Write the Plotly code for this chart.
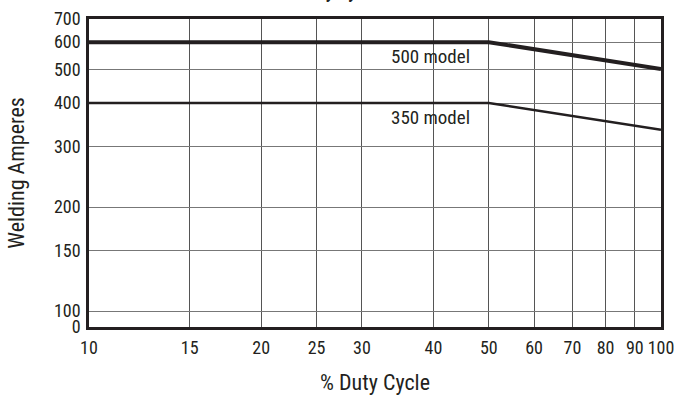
import plotly.graph_objects as go
import math

duty_500 = [10, 50, 100]
amps_500 = [600, 600, 502]
duty_350 = [10, 50, 100]
amps_350 = [400, 400, 335]

x_ticks = [10, 15, 20, 25, 30, 40, 50, 60, 70, 80, 90, 100]
y_ticks = [90, 100, 150, 200, 300, 400, 500, 600, 700]
y_ticktext = ["0", "100", "150", "200", "300", "400", "500", "600", "700"]

FONT = "Liberation Sans Narrow, Roboto Condensed, Arial Narrow, Liberation Sans, sans-serif"
INK = "#231f20"

fig = go.Figure()
fig.add_trace(go.Scatter(x=duty_500, y=amps_500, mode="lines",
                         line=dict(color=INK, width=4), showlegend=False, cliponaxis=False))
fig.add_trace(go.Scatter(x=duty_350, y=amps_350, mode="lines",
                         line=dict(color=INK, width=2.5), showlegend=False, cliponaxis=False))

fig.add_annotation(x=math.log10(40), y=math.log10(545), text="500 model", showarrow=False,
                   xanchor="center", font=dict(family=FONT, size=19, color=INK), xshift=-3)
fig.add_annotation(x=math.log10(40), y=math.log10(364), text="350 model", showarrow=False,
                   xanchor="center", font=dict(family=FONT, size=19, color=INK), xshift=-3)
fig.add_annotation(xref="paper", yref="paper", x=(339 - 89) / 572, y=1.049,
                   yanchor="bottom", text="<b>Duty Cycle</b>", showarrow=False,
                   font=dict(family=FONT, size=18, color=INK))

fig.update_xaxes(type="log", range=[1, 2], tickvals=x_ticks, ticktext=[str(v) for v in x_ticks],
                 showgrid=True, gridcolor="#555555", gridwidth=1,
                 showline=True, linecolor=INK, linewidth=2.5, mirror=True,
                 ticks="outside", ticklen=3, tickcolor="rgba(0,0,0,0)",
                 tickfont=dict(family=FONT, size=18, color=INK),
                 title=dict(text="% Duty Cycle", font=dict(family=FONT, size=22, color=INK), standoff=18),
                 zeroline=False, automargin=False)
fig.update_yaxes(type="log", range=[math.log10(90), math.log10(700)], tickvals=y_ticks, ticktext=y_ticktext,
                 showgrid=True, gridcolor="#777777", gridwidth=1,
                 showline=True, linecolor=INK, linewidth=2.5, mirror=True,
                 ticks="outside", ticklen=2, tickcolor="rgba(0,0,0,0)",
                 tickfont=dict(family=FONT, size=18, color=INK),
                 title=dict(text="Welding Amperes", font=dict(family=FONT, size=22, color=INK), standoff=24),
                 zeroline=False, automargin=False)

fig.update_layout(width=678, height=402, margin=dict(l=89, r=17, t=19, b=75),
                  plot_bgcolor="white", paper_bgcolor="white", showlegend=False)
fig.write_html("out.html", config={"displayModeBar": False},
               post_script="document.body.style.margin='0';document.body.style.overflow='hidden';")
